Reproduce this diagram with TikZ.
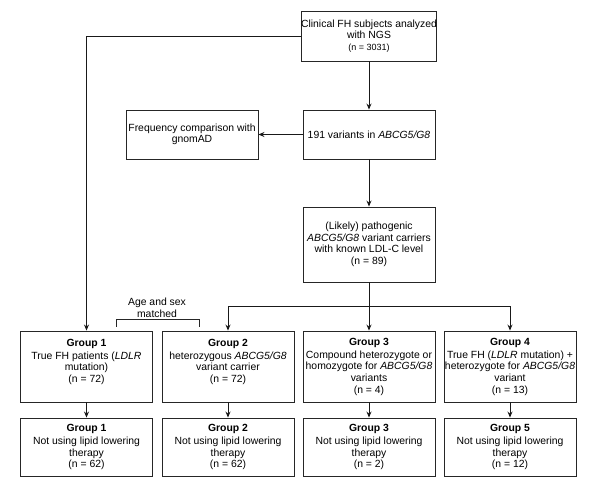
\documentclass[tikz,border=0pt]{standalone}
\usepackage{fontspec}
\setmainfont{Liberation Sans}
\usetikzlibrary{arrows.meta}
\begin{document}
\begin{tikzpicture}[x=1pt,y=-1pt,
  box/.style={draw=black!85,line width=0.9pt,minimum width=132pt,inner sep=0pt,align=center,
    font=\fontsize{10.4}{11.6}\selectfont},
  arr/.style={draw=black!90,line width=0.9pt,-{Stealth[length=6pt,width=5pt]}},
  ln/.style={draw=black!85,line width=0.9pt},
  lbl/.style={align=center,font=\fontsize{10.4}{11.6}\selectfont,inner sep=0pt}]
\useasboundingbox (0,0) rectangle (598,492);
% top row
\node[box,minimum height=50pt] (top) at (369,36) {Clinical FH subjects analyzed\\with NGS\\{\fontsize{9}{10.5}\selectfont (n = 3031)}};
\node[box,minimum height=49pt] (v191) at (369,134.5) {191 variants in \textit{ABCG5/G8}};
\node[box,minimum height=49pt] (freq) at (192,134.5) {Frequency comparison with\\gnomAD};
\node[box,minimum height=75pt] (likely) at (369,244.5) {(Likely) pathogenic\\\textit{ABCG5/G8} variant carriers\\with known LDL-C level\\(n = 89)};
% group row
\node[box,minimum height=71pt] (g1) at (86.5,366.5) {\textbf{Group 1}\\[1.5pt]True FH patients (\textit{LDLR}\\mutation)\\(n = 72)\\\mbox{}};
\node[box,minimum height=71pt] (g2) at (228,366.5) {\textbf{Group 2}\\[1.5pt]heterozygous \textit{ABCG5/G8}\\variant carrier\\(n = 72)\\\mbox{}};
\node[box,minimum height=71pt] (g3) at (369,366.5) {\textbf{Group 3}\\[1.5pt]Compound heterozygote or\\homozygote for \textit{ABCG5/G8}\\variants\\(n = 4)};
\node[box,minimum height=71pt] (g4) at (510,366.5) {\textbf{Group 4}\\[1.5pt]True FH (\textit{LDLR} mutation) +\\heterozygote for \textit{ABCG5/G8}\\variant\\(n = 13)};
% bottom row
\node[box,minimum height=58pt] (b1) at (86.5,447) {\textbf{Group 1}\\[1.5pt]Not using lipid lowering\\therapy\\(n = 62)};
\node[box,minimum height=58pt] (b2) at (228,447) {\textbf{Group 2}\\[1.5pt]Not using lipid lowering\\therapy\\(n = 62)};
\node[box,minimum height=58pt] (b3) at (369,447) {\textbf{Group 3}\\[1.5pt]Not using lipid lowering\\therapy\\(n = 2)};
\node[box,minimum height=58pt] (b4) at (510,447) {\textbf{Group 5}\\[1.5pt]Not using lipid lowering\\therapy\\(n = 12)};
% connectors
\draw[arr] (top) -- (v191);
\draw[arr] (v191) -- (freq);
\draw[arr] (v191) -- (likely);
\draw[arr] (top.west) -| (g1.north);
\coordinate (split) at (369,306);
\draw[arr] (likely) -- (g3);
\draw[arr] (split) -| (g2.north);
\draw[arr] (split) -| (g4.north);
\draw[arr] (g1) -- (b1);
\draw[arr] (g2) -- (b2);
\draw[arr] (g3) -- (b3);
\draw[arr] (g4) -- (b4);
% bracket
\coordinate (bl) at (116,327);
\coordinate (br) at (199,327);
\draw[ln] (bl) -- ++(0,-8) -| (br);
\node[lbl] (match) at (157,307.5) {Age and sex\\matched};
\end{tikzpicture}
\end{document}
